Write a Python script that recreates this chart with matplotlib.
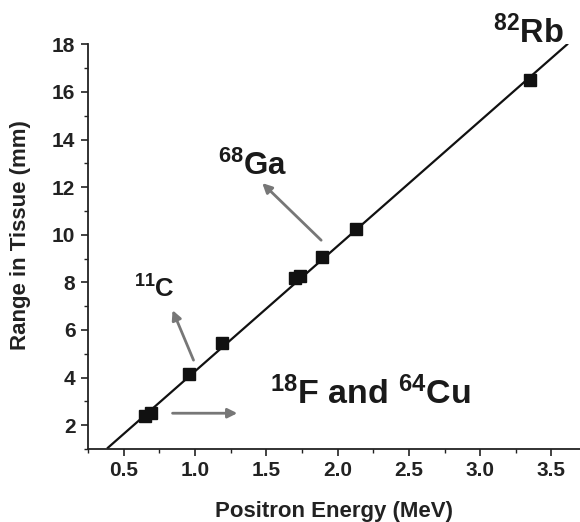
import matplotlib
matplotlib.use("Agg")
import matplotlib.pyplot as plt
from matplotlib.ticker import MultipleLocator

plt.rcParams['font.family'] = ['Liberation Sans', 'DejaVu Sans']
plt.rcParams['mathtext.default'] = 'regular'

# Data points (positron energy in MeV, range in tissue in mm)
energy = [0.65, 0.69, 0.96, 1.19, 1.70, 1.74, 1.89, 2.13, 3.35]
tissue_range = [2.40, 2.50, 4.15, 5.45, 8.20, 8.25, 9.05, 10.25, 16.50]

# Fitted line endpoints
fit_energy = [0.39, 3.61]
fit_range = [1.05, 18.0]

xticks = [0.5, 1.0, 1.5, 2.0, 2.5, 3.0, 3.5]
yticks = [2, 4, 6, 8, 10, 12, 14, 16, 18]

fig = plt.figure(figsize=(5.8, 5.22), dpi=100)
ax = fig.add_axes([0.1517, 0.140, 0.8483, 0.775])

ax.plot(fit_energy, fit_range, color='#111111', lw=1.6, zorder=2)
ax.plot(energy, tissue_range, 's', color='#111111', ms=8, zorder=3)

ax.set_xlim(0.25, 3.7)
ax.set_ylim(1.0, 18.0)
ax.set_xticks(xticks)
ax.set_yticks(yticks)
ax.set_xticklabels([f"{v:.1f}" for v in xticks])
ax.set_yticklabels([str(v) for v in yticks])
ax.xaxis.set_minor_locator(MultipleLocator(0.25))
ax.yaxis.set_minor_locator(MultipleLocator(1))

for s in ['top', 'right']:
    ax.spines[s].set_visible(False)
for s in ['left', 'bottom']:
    ax.spines[s].set_linewidth(1.3)
    ax.spines[s].set_color('#222222')

ax.tick_params(which='major', direction='out', length=5, width=1.2, labelsize=15,
               colors='#222222', pad=4)
ax.tick_params(which='minor', direction='out', length=3, width=1.0, colors='#222222')
for lab in ax.get_xticklabels() + ax.get_yticklabels():
    lab.set_fontweight('bold')

ax.set_xlabel('Positron Energy (MeV)', fontsize=16, fontweight='bold', color='#222222')
ax.set_ylabel('Range in Tissue (mm)', fontsize=16, fontweight='bold', color='#222222')
ax.xaxis.set_label_coords(0.50, -0.128)
ax.yaxis.set_label_coords(-0.116, 0.528)

txt = dict(color='#1a1a1a', fontweight='bold', ha='left', va='baseline')
ax.text(0.57, 7.34, r'$^{11}$C', fontsize=18.5, **txt)
ax.text(1.164, 12.53, r'$^{68}$Ga', fontsize=22.5, **txt)
ax.text(3.087, 18.05, r'$^{82}$Rb', fontsize=23.5, clip_on=False, **txt)
ax.text(1.528, 2.88, r'$^{18}$F and $^{64}$Cu', fontsize=24.5, **txt)

arrow = dict(arrowstyle='-|>', color='#777777', lw=2.0, mutation_scale=14,
             shrinkA=0, shrinkB=0)
ax.annotate('', xy=(0.843, 6.83), xytext=(0.99, 4.73), arrowprops=arrow)
ax.annotate('', xy=(1.297, 2.50), xytext=(0.843, 2.50), arrowprops=arrow)
ax.annotate('', xy=(1.472, 12.17), xytext=(1.885, 9.77), arrowprops=arrow)

fig.savefig('out.png', dpi=100)
